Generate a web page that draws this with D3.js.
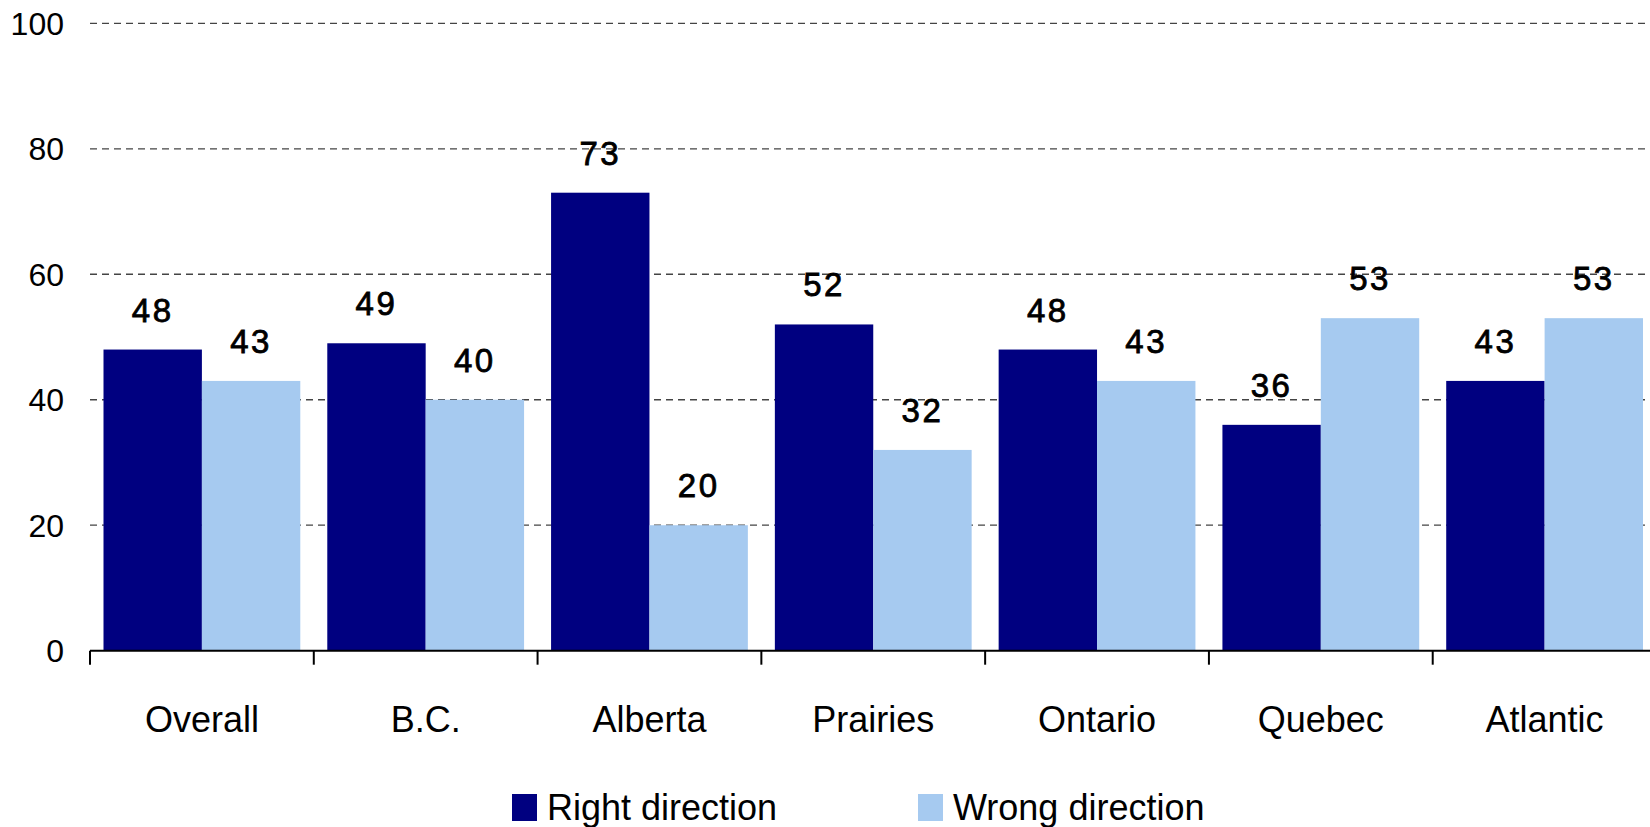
<!DOCTYPE html>
<html>
<head>
<meta charset="utf-8">
<script src="https://cdn.jsdelivr.net/npm/d3@7"></script>
<style>
  body { margin: 0; background: #fff; }
  svg { display: block; font-family: 'Liberation Sans', Arial, sans-serif; }
</style>
</head>
<body>
<svg id="svg" width="1650" height="827"></svg>
<script>
// data
var regions = ['Overall', 'B.C.', 'Alberta', 'Prairies', 'Ontario', 'Quebec', 'Atlantic'];
var seriesNames = ['Right direction', 'Wrong direction'];
var rightDirection = [48, 49, 73, 52, 48, 36, 43];
var wrongDirection = [43, 40, 20, 32, 43, 53, 53];
var yTicks = [0, 20, 40, 60, 80, 100];

var colors = ['#000080', '#A6CAF0'];

var rows = regions.map(function (r, i) {
    return { region: r, values: [rightDirection[i], wrongDirection[i]] };
});

var svg = d3.select('svg');

var x = d3.scaleBand()
    .domain(regions)
    .range([90, 1656.5]);

var inner = d3.scaleBand()
    .domain([0, 1])
    .range([13.5, x.bandwidth() - 13.5]);

var y = d3.scaleLinear()
    .domain([0, 100])
    .range([650.7, 23.3]);

// gridlines
svg.append('g')
    .selectAll('line')
    .data(yTicks.filter(function (d) { return d > 0; }))
    .enter()
    .append('line')
    .attr('x1', 90)
    .attr('x2', 1650)
    .attr('y1', function (d) { return y(d); })
    .attr('y2', function (d) { return y(d); })
    .attr('stroke', '#444')
    .attr('stroke-width', 1.3)
    .attr('stroke-dasharray', '7,5');

// y labels
svg.append('g')
    .selectAll('text')
    .data(yTicks)
    .enter()
    .append('text')
    .attr('x', 64)
    .attr('y', function (d) { return y(d); })
    .attr('dy', '0.36em')
    .attr('text-anchor', 'end')
    .attr('font-size', 32)
    .attr('fill', '#000')
    .text(function (d) { return d; });

// bars
var groups = svg.append('g')
    .selectAll('g')
    .data(rows)
    .enter()
    .append('g')
    .attr('transform', function (d) { return 'translate(' + x(d.region) + ',0)'; });

groups.selectAll('rect')
    .data(function (d) { return d.values; })
    .enter()
    .append('rect')
    .attr('x', function (d, i) { return inner(i); })
    .attr('width', inner.bandwidth())
    .attr('y', function (d) { return y(d); })
    .attr('height', function (d) { return y(0) - y(d); })
    .attr('fill', function (d, i) { return colors[i]; });

// value labels (semi-bold look)
groups.selectAll('text')
    .data(function (d) { return d.values; })
    .enter()
    .append('text')
    .attr('x', function (d, i) { return inner(i) + inner.bandwidth() / 2; })
    .attr('y', function (d) { return y(d) - 28; })
    .attr('text-anchor', 'middle')
    .attr('font-size', 33)
    .attr('letter-spacing', 2.5)
    .attr('fill', '#000')
    .attr('stroke', '#000')
    .attr('stroke-width', 0.8)
    .text(function (d) { return d; });

// x axis
svg.append('line')
    .attr('x1', 90)
    .attr('x2', 1650)
    .attr('y1', y(0))
    .attr('y2', y(0))
    .attr('stroke', '#000')
    .attr('stroke-width', 2);

svg.append('g')
    .selectAll('line')
    .data(regions)
    .enter()
    .append('line')
    .attr('x1', function (d) { return x(d); })
    .attr('x2', function (d) { return x(d); })
    .attr('y1', y(0))
    .attr('y2', y(0) + 14)
    .attr('stroke', '#000')
    .attr('stroke-width', 2);

svg.append('g')
    .selectAll('text')
    .data(regions)
    .enter()
    .append('text')
    .attr('x', function (d) { return x(d) + x.bandwidth() / 2; })
    .attr('y', 731.7)
    .attr('text-anchor', 'middle')
    .attr('font-size', 36)
    .attr('fill', '#000')
    .text(function (d) { return d; });

// legend
var legendX = [512, 918];
var legend = svg.append('g')
    .selectAll('g')
    .data(seriesNames)
    .enter()
    .append('g')
    .attr('transform', function (d, i) { return 'translate(' + legendX[i] + ',794)'; });

legend.append('rect')
    .attr('width', 25)
    .attr('height', 27)
    .attr('fill', function (d, i) { return colors[i]; });

legend.append('text')
    .attr('x', 35)
    .attr('y', 26)
    .attr('font-size', 36)
    .attr('fill', '#000')
    .text(function (d) { return d; });
</script>
</body>
</html>
